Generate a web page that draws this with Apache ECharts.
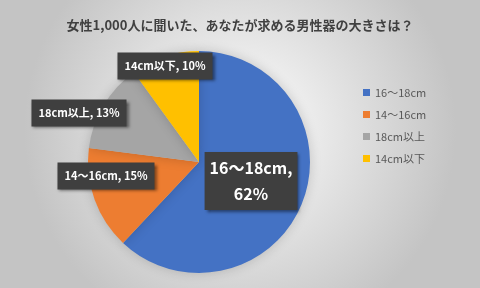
<!DOCTYPE html>
<html><head><meta charset="utf-8">
<script src="https://cdn.jsdelivr.net/npm/echarts@6/dist/echarts.min.js"></script>
<style>html,body{margin:0;padding:0;}#c{width:480px;height:288px;}</style>
</head><body><div id="c"></div>
<script>
var categories = ['16〜18cm', '14〜16cm', '18cm以上', '14cm以下'];
var values = [62, 15, 13, 10];
var colors = ['#4472C4', '#ED7D31', '#A5A5A5', '#FFC000'];
var titleText = '女性1,000人に聞いた、あなたが求める男性器の大きさは？';
// label box centres (layout only)
var labelPos = [[251, 181], [106, 176], [79, 113], [165, 66]];

var chart = echarts.init(document.getElementById('c'));
var font = '"Noto Sans CJK JP", "Noto Sans", sans-serif';
chart.setOption({
  backgroundColor: {
    type: 'radial', x: 0.5, y: 0.45, r: 0.75,
    colorStops: [{offset: 0, color: '#ffffff'}, {offset: 1, color: '#c4c4c4'}]
  },
  title: {
    text: titleText, left: 'center', top: 14,
    textStyle: {fontFamily: font, fontSize: 13, fontWeight: 'bold', color: '#404040'}
  },
  legend: {
    orient: 'vertical', left: 358, top: 82, icon: 'rect',
    itemWidth: 7, itemHeight: 7, itemGap: 11,
    data: categories,
    textStyle: {fontFamily: font, fontSize: 11, color: '#595959'}
  },
  series: [{
    type: 'pie',
    center: [199, 162], radius: 111,
    startAngle: 90, clockwise: true,
    color: colors,
    itemStyle: {shadowBlur: 12, shadowColor: 'rgba(0,0,0,0.18)'},
    labelLine: {show: false},
    data: categories.map(function (c, i) {
      var d = {name: c, value: values[i]};
      if (i === 0) {
        d.label = {formatter: '{b},\n{c}%', fontSize: 16, lineHeight: 26, padding: [3, 5]};
      }
      return d;
    }),
    label: {
      show: true, position: 'inside', overflow: 'none',
      formatter: '{b}, {c}%',
      fontFamily: font, fontSize: 11, fontWeight: 'bold', color: '#ffffff',
      backgroundColor: '#3f3f3f', padding: [8, 7],
      shadowColor: 'rgba(0,0,0,0.5)', shadowBlur: 3, shadowOffsetX: 2, shadowOffsetY: 2
    },
    labelLayout: function (p) {
      var pos = labelPos[p.dataIndex];
      return {x: pos[0], y: pos[1], align: 'center', verticalAlign: 'middle', hideOverlap: false};
    },
    emphasis: {disabled: true}
  }]
});
</script></body></html>
